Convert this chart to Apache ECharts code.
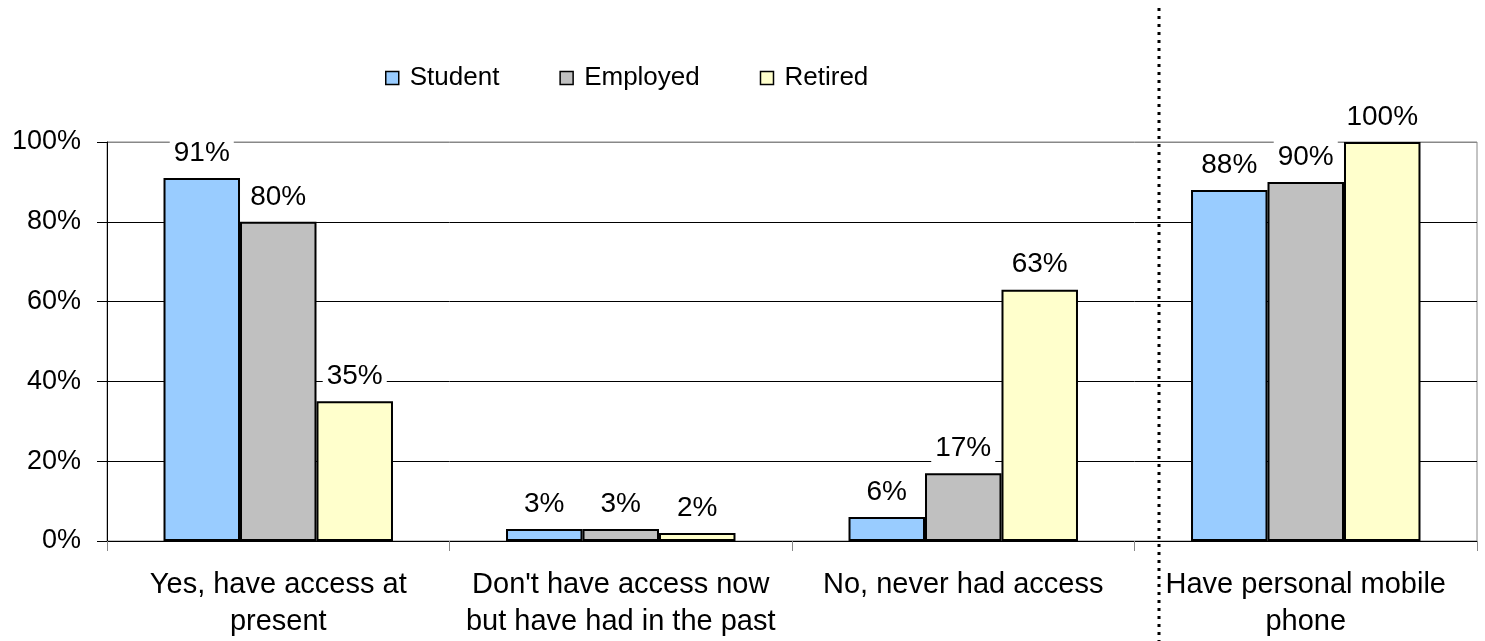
<!DOCTYPE html>
<html>
<head>
<meta charset="utf-8">
<title>Access by occupation</title>
<script src="https://cdn.jsdelivr.net/npm/echarts@6/dist/echarts.min.js"></script>
<style>
  html, body { margin: 0; padding: 0; background: #fff; }
  #chart { width: 1485px; height: 641px; }
</style>
</head>
<body>
<div id="chart"></div>
<script>
// Category labels (two-line where wrapped)
const categories = [
  'Yes, have access at\npresent',
  "Don't have access now\nbut have had in the past",
  'No, never had access',
  'Have personal mobile\nphone'
];

// Percentages per group
const student  = [91, 3, 6, 88];
const employed = [80, 3, 17, 90];
const retired  = [35, 2, 63, 100];

// Y axis ticks
const yTicks = [0, 20, 40, 60, 80, 100];

const FONT = '"Liberation Sans", Arial, sans-serif';

const labelCfg = {
  show: true,
  position: 'top',
  distance: 9,
  formatter: '{c}%',
  color: '#000',
  fontFamily: FONT,
  fontSize: 28,
  backgroundColor: '#fff',
  padding: [2, 4]
};

function barSeries(name, data, color) {
  return {
    name: name,
    type: 'bar',
    data: data,
    barGap: '0%',
    barCategoryGap: '33%',
    itemStyle: { color: color, borderColor: '#000', borderWidth: 2 },
    label: labelCfg,
    emphasis: { disabled: true }
  };
}

const chart = echarts.init(document.getElementById('chart'), null, { renderer: 'canvas' });

chart.setOption({
  animation: false,
  backgroundColor: '#fff',
  textStyle: { fontFamily: FONT },
  legend: {
    left: 380,
    top: 60,
    itemWidth: 13,
    itemHeight: 13,
    itemGap: 60,
    icon: 'rect',
    itemStyle: { borderColor: '#000', borderWidth: 1.5 },
    textStyle: { fontFamily: FONT, fontSize: 26, color: '#000', padding: [0, 0, 0, 6] },
    data: ['Student', 'Employed', 'Retired']
  },
  grid: {
    left: 107,
    right: 8,
    top: 142,
    bottom: 100,
    show: true,
    borderColor: '#888',
    borderWidth: 1,
    containLabel: false
  },
  xAxis: {
    type: 'category',
    data: categories,
    axisLine: { show: true, lineStyle: { color: '#000', width: 1 } },
    axisTick: { show: true, length: 10, interval: 0, lineStyle: { color: '#888' } },
    axisLabel: {
      interval: 0,
      fontFamily: FONT,
      fontSize: 29,
      color: '#000',
      margin: 25,
      lineHeight: 37,
      align: 'center'
    }
  },
  yAxis: {
    type: 'value',
    min: yTicks[0],
    max: yTicks[yTicks.length - 1],
    interval: 20,
    axisLine: { show: true, lineStyle: { color: '#000', width: 1 } },
    axisTick: { show: true, length: 10, lineStyle: { color: '#000' } },
    axisLabel: {
      formatter: '{value}%',
      fontFamily: FONT,
      fontSize: 27,
      color: '#000',
      margin: 26
    },
    splitLine: {
      show: true,
      lineStyle: { color: ['#000', '#000', '#000', '#000', '#000', '#888'], width: 1 }
    }
  },
  series: [
    barSeries('Student', student, '#99CCFF'),
    barSeries('Employed', employed, '#C0C0C0'),
    barSeries('Retired', retired, '#FFFFCC')
  ],
  graphic: [{
    // dotted separator before the mobile phone group
    type: 'line',
    silent: true,
    z: 100,
    shape: { x1: 1159, y1: 8, x2: 1159, y2: 641 },
    style: { stroke: '#000', lineWidth: 3, lineDash: [3, 5] }
  }]
});
</script>
</body>
</html>
